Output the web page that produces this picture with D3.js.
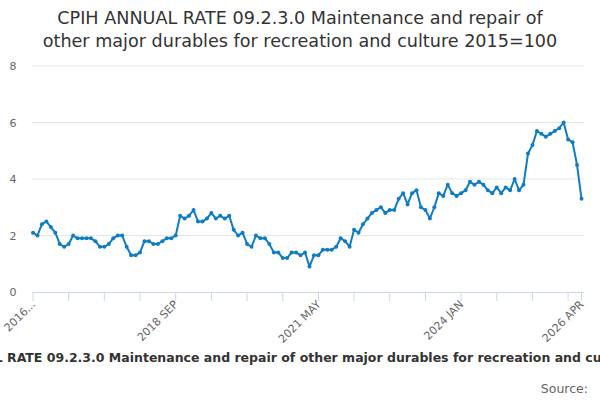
<!DOCTYPE html>
<html>
<head>
  <meta charset="utf-8">
  <script src="https://d3js.org/d3.v7.min.js"></script>
  <style type="text/css">
    body { margin: 0; background: #fff; }
    text { font-family: "DejaVu Sans", sans-serif; }
  </style>
</head>
<body>
  <script type="text/javascript">
    "use strict";

    // monthly annual rate, 2016 JAN to 2026 APR
    var startYear = 2016;
    var monthNames = ['JAN','FEB','MAR','APR','MAY','JUN','JUL','AUG','SEP','OCT','NOV','DEC'];
    var rates = [
      2.1, 2.0, 2.4, 2.5, 2.3, 2.1, 1.7, 1.6, 1.7, 2.0, 1.9, 1.9,
      1.9, 1.9, 1.8, 1.6, 1.6, 1.7, 1.9, 2.0, 2.0, 1.6, 1.3, 1.3,
      1.4, 1.8, 1.8, 1.7, 1.7, 1.8, 1.9, 1.9, 2.0, 2.7, 2.6, 2.7,
      2.9, 2.5, 2.5, 2.6, 2.8, 2.6, 2.7, 2.6, 2.7, 2.2, 2.0, 2.1,
      1.7, 1.6, 2.0, 1.9, 1.9, 1.7, 1.4, 1.4, 1.2, 1.2, 1.4, 1.4,
      1.3, 1.4, 0.9, 1.3, 1.3, 1.5, 1.5, 1.5, 1.6, 1.9, 1.8, 1.6,
      2.2, 2.1, 2.4, 2.6, 2.8, 2.9, 3.0, 2.8, 2.9, 2.9, 3.3, 3.5,
      3.1, 3.5, 3.6, 3.0, 2.9, 2.6, 3.0, 3.5, 3.4, 3.8, 3.5, 3.4,
      3.5, 3.6, 3.9, 3.8, 3.9, 3.8, 3.6, 3.5, 3.7, 3.5, 3.7, 3.6,
      4.0, 3.6, 3.8, 4.9, 5.2, 5.7, 5.6, 5.5, 5.6, 5.7, 5.8, 6.0,
      5.4, 5.3, 4.5, 3.3
    ];
    var months = rates.map(function (d, i) {
      return (startYear + Math.floor(i / 12)) + ' ' + monthNames[i % 12];
    });
    var yTicks = [0, 2, 4, 6, 8];
    var tickEvery = 8;
    var labelIdx = [0, 32, 64, 96, 123];
    var firstLabel = '2016...';

    var titleText = 'CPIH ANNUAL RATE 09.2.3.0 Maintenance and repair of other major durables for recreation and culture 2015=100';
    var titleLines = ['CPIH ANNUAL RATE 09.2.3.0 Maintenance and repair of',
                      'other major durables for recreation and culture 2015=100'];

    var width = 600, height = 400;
    var plotLeft = 32, plotRight = 584, plotTop = 66, plotBottom = 292;

    var svg = d3.select('body').append('svg')
      .attr('width', width)
      .attr('height', height);

    // title
    svg.selectAll('.title')
      .data(titleLines)
      .enter()
      .append('text')
        .attr('class', 'title')
        .attr('x', width / 2)
        .attr('y', function (d, i) { return 24 + i * 23; })
        .attr('text-anchor', 'middle')
        .style('font-size', '17.6px')
        .style('fill', '#333')
        .text(function (d) { return d; });

    var x = d3.scaleLinear()
      .domain([0, rates.length - 1])
      .range([33, 581.5]);

    var y = d3.scaleLinear()
      .domain([0, 8])
      .range([plotBottom, plotTop]);

    // horizontal grid
    svg.append('g')
      .selectAll('line')
      .data(yTicks.filter(function (d) { return d > 0; }))
      .enter()
      .append('line')
        .attr('x1', plotLeft)
        .attr('x2', plotRight)
        .attr('y1', function (d) { return y(d); })
        .attr('y2', function (d) { return y(d); })
        .style('stroke', '#e6e6e6')
        .style('stroke-width', 1);

    // y labels
    svg.append('g')
      .selectAll('text')
      .data(yTicks)
      .enter()
      .append('text')
        .attr('x', 13)
        .attr('y', function (d) { return y(d) + 4; })
        .attr('text-anchor', 'middle')
        .style('font-size', '11px')
        .style('fill', '#666')
        .text(function (d) { return d; });

    // x axis line and ticks
    var tickIdx = d3.range(0, rates.length, tickEvery);
    tickIdx.push(rates.length - 1);

    svg.append('line')
      .attr('x1', plotLeft)
      .attr('x2', plotRight)
      .attr('y1', plotBottom + 0.5)
      .attr('y2', plotBottom + 0.5)
      .style('stroke', '#ccd6eb');

    svg.append('g')
      .selectAll('line')
      .data(tickIdx)
      .enter()
      .append('line')
        .attr('x1', function (d) { return x(d); })
        .attr('x2', function (d) { return x(d); })
        .attr('y1', plotBottom)
        .attr('y2', plotBottom + 9)
        .style('stroke', '#ccd6eb');

    // x labels, rotated
    svg.append('g')
      .selectAll('text')
      .data(labelIdx)
      .enter()
      .append('text')
        .attr('transform', function (d) {
          return 'translate(' + (x(d) + 3) + ',' + (plotBottom + 13) + ') rotate(-45)';
        })
        .attr('text-anchor', 'end')
        .style('font-size', '11px')
        .style('fill', '#666')
        .text(function (d, i) { return i === 0 ? firstLabel : months[d]; });

    // line
    var line = d3.line()
      .x(function (d, i) { return x(i); })
      .y(function (d) { return y(d); });

    svg.append('path')
      .datum(rates)
      .attr('d', line)
      .style('fill', 'none')
      .style('stroke', '#0f7cc4')
      .style('stroke-width', 2)
      .style('stroke-linejoin', 'round');

    svg.append('g')
      .selectAll('circle')
      .data(rates)
      .enter()
      .append('circle')
        .attr('cx', function (d, i) { return x(i); })
        .attr('cy', function (d) { return y(d); })
        .attr('r', 2)
        .style('fill', '#0f7cc4');

    // bottom caption (overflows the page as in the original) and source
    svg.append('text')
      .attr('x', 309)
      .attr('y', 362)
      .attr('text-anchor', 'middle')
      .style('font-size', '12.5px')
      .style('font-weight', 'bold')
      .style('fill', '#333')
      .text(titleText);

    svg.append('text')
      .attr('x', 588)
      .attr('y', 393)
      .attr('text-anchor', 'end')
      .style('font-size', '12.5px')
      .style('fill', '#666')
      .text('Source:');
  </script>
</body>
</html>
